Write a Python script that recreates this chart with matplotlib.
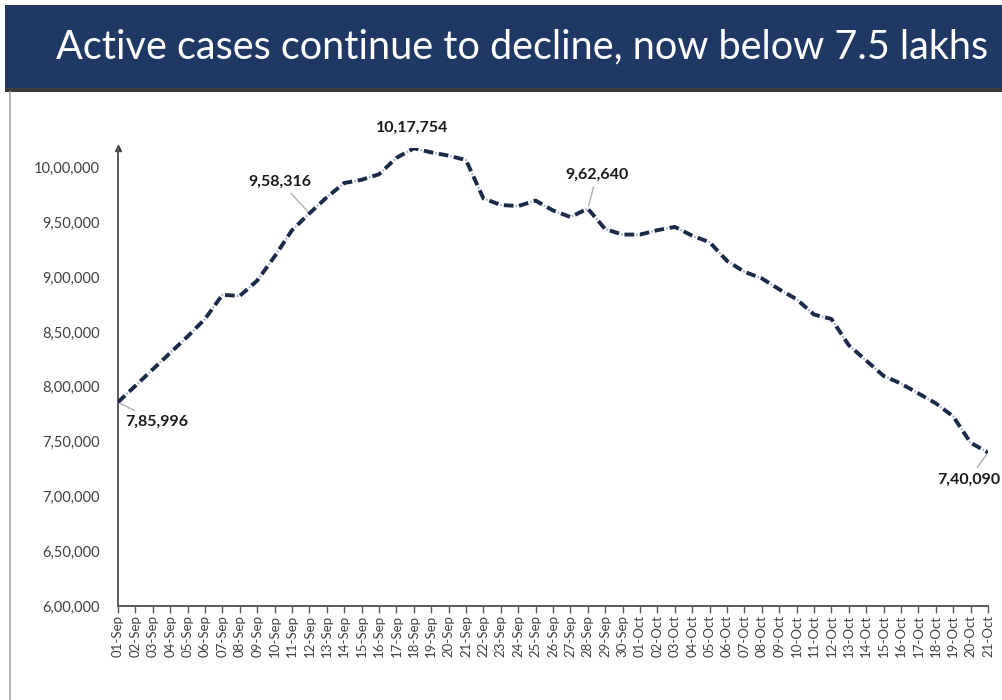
#!/usr/bin/env python

import matplotlib

matplotlib.use("Agg")
import matplotlib.pyplot as plt
from matplotlib.patches import Rectangle
from matplotlib.lines import Line2D
from matplotlib.ticker import FuncFormatter

plt.rcParams["font.family"] = ["Lato", "DejaVu Sans"]
plt.rcParams["lines.scale_dashes"] = False

# Data: active cases, 01-Sep to 21-Oct
dates = ["%02d-Sep" % d for d in range(1, 31)] + ["%02d-Oct" % d for d in range(1, 22)]
active = [
    785996, 801000, 816000, 831000, 846000, 862000, 884000, 883000, 897000, 919000,
    943000, 958316, 973000, 986000, 989000, 994000, 1009000, 1017754, 1014000, 1011000,
    1007000, 972000, 966000, 965000, 970000, 961000, 955000, 962640, 944000, 939000,
    939000, 943000, 946000, 938000, 932000, 915000, 905000, 899000, 889000, 880000,
    866000, 862000, 838000, 824000, 810000, 803000, 794000, 785000, 773000, 749000,
    740090,
]
yticks = [600000, 650000, 700000, 750000, 800000, 850000, 900000, 950000, 1000000]
title = "Active cases continue to decline, now below 7.5 lakhs"

# indices of labelled points: (dx, dy offset in points, leader line)
callouts = {
    0: (5, -14, True),
    11: (-21, 23, True),
    17: (-1, 14.5, False),
    27: (6.5, 24.5, True),
    50: (-14, -19.5, True),
}


def indian(v, pos=None):
    s = "%d" % int(round(v))
    if len(s) <= 3:
        return s
    head, tail = s[:-3], s[-3:]
    groups = []
    while len(head) > 2:
        groups.insert(0, head[-2:])
        head = head[:-2]
    if head:
        groups.insert(0, head)
    return ",".join(groups) + "," + tail


W, H = 1002, 700
fig = plt.figure(figsize=(W / 100, H / 100), dpi=100)
fig.patch.set_facecolor("white")

# title banner
fig.patches.append(
    Rectangle((5 / W, 1 - 88 / H), 997 / W, 83 / H, transform=fig.transFigure,
              facecolor="#1f3864", edgecolor="none", zorder=0)
)
fig.patches.append(
    Rectangle((5 / W, 1 - 92 / H), 997 / W, 4 / H, transform=fig.transFigure,
              facecolor="#3b3b3b", edgecolor="none", zorder=0)
)
fig.lines.append(
    Line2D([10 / W, 10 / W], [0, 1 - 92 / H], transform=fig.transFigure,
           color="#a6a6a6", lw=1.2)
)
fig.text(522 / W, 1 - 47 / H, title, color="white", fontsize=28.5,
         ha="center", va="center")

ax = fig.add_axes([118 / W, (H - 606) / H, (988 - 118) / W, (606 - 148) / H])
x = list(range(len(dates)))

ax.plot(x, active, color="#a9b8cf", lw=1.6, linestyle=(2.6, (1.4, 9.6)),
        solid_capstyle="butt", zorder=2)
ax.plot(x, active, color="#1c2a4a", lw=2.8, linestyle=(0, (7, 4)),
        dash_capstyle="butt", zorder=3)

ax.set_xlim(0, len(dates) - 1)
ax.set_ylim(600000, 1018000)
ax.set_xticks(x)
ax.set_xticklabels(dates, rotation=90, fontsize=9.5, color="#404040")
ax.set_yticks(yticks)
ax.yaxis.set_major_formatter(FuncFormatter(indian))
ax.tick_params(axis="y", length=0, pad=13, labelsize=10.5, labelcolor="#404040")
ax.tick_params(axis="x", direction="out", length=5, width=1, color="#595959", pad=1.5)

for side in ["top", "right"]:
    ax.spines[side].set_visible(False)
for side in ["left", "bottom"]:
    ax.spines[side].set_color("#595959")
    ax.spines[side].set_linewidth(1.4)
ax.plot(0, 1, marker="^", markersize=5, color="#404040", transform=ax.transAxes,
        clip_on=False)

for i, (dx, dy, leader) in callouts.items():
    ax.annotate(
        indian(active[i]),
        xy=(i, active[i]),
        xytext=(dx, dy),
        textcoords="offset points",
        ha="left" if i == 0 else "center",
        va="center",
        fontsize=11.5,
        fontweight="bold",
        color="#1a1a1a",
        annotation_clip=False,
        arrowprops=dict(arrowstyle="-", color="#b0b0b0", lw=1, shrinkA=2, shrinkB=2)
        if leader
        else None,
    )

fig.savefig("out.png", dpi=100)
plt.close(fig)
